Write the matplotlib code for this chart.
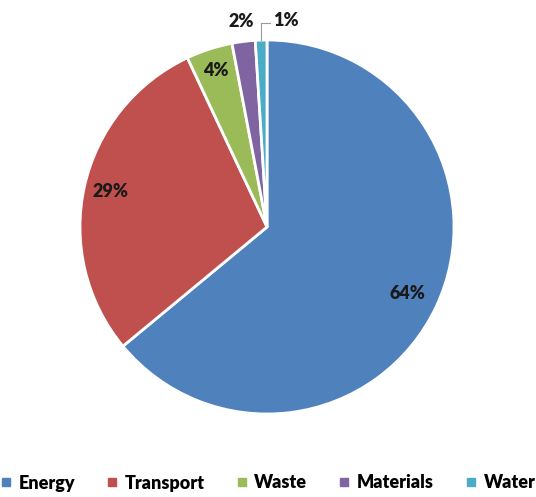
import matplotlib
matplotlib.use("Agg")
import matplotlib.pyplot as plt
import numpy as np
from matplotlib.lines import Line2D

categories = ["Energy", "Transport", "Waste", "Materials", "Water"]
values = [64, 29, 4, 2, 1]
labels = ["64%", "29%", "4%", "2%", "1%"]
colors = ["#4F81BD", "#C0504D", "#9BBB59", "#8064A2", "#4BACC6"]
label_r = [0.83, 0.86, 0.88, 1.11, None]

plt.rcParams['font.family'] = ['Lato', 'DejaVu Sans']
W, H = 536, 497
fig = plt.figure(figsize=(W/100, H/100), dpi=100)
cx, cy, R = 267, 227, 187
ax = fig.add_axes([(cx-R)/W, (H-cy-R)/H, 2*R/W, 2*R/H])
wedges, _ = ax.pie(values, colors=colors, startangle=90, counterclock=False,
                   radius=1, wedgeprops=dict(edgecolor='white', linewidth=2))
ax.set_xlim(-1, 1); ax.set_ylim(-1, 1); ax.set_aspect('equal'); ax.axis('off')

for w, lab, r in zip(wedges, labels, label_r):
    mid = np.deg2rad((w.theta1 + w.theta2) / 2)
    if r is not None:
        ax.text(r*np.cos(mid), r*np.sin(mid), lab, ha='center', va='center',
                fontsize=13, fontweight='heavy', color='#1a1a1a')
    else:
        x0, y0 = np.cos(mid), np.sin(mid)
        y1 = y0 + 17/R
        x1 = x0 + 9/R
        ax.plot([x0, x0, x1], [y0, y1, y1], color='#999999', lw=0.8, clip_on=False)
        ax.text(x1 + 3/R, y1 + 3/R, lab, ha='left', va='center',
                fontsize=13, fontweight='heavy', color='#1a1a1a')

handles = [Line2D([0], [0], marker='s', linestyle='', markersize=6,
                  markerfacecolor=c, markeredgecolor=c) for c in colors]
fig.legend(handles, categories, loc='center', bbox_to_anchor=(0.5, 1-483/H), ncol=5,
           frameon=False, prop=dict(size=13, weight='heavy'), handlelength=0.6,
           handletextpad=0.4, columnspacing=1.75, borderpad=0, borderaxespad=0)
fig.savefig("out.png", dpi=100)
